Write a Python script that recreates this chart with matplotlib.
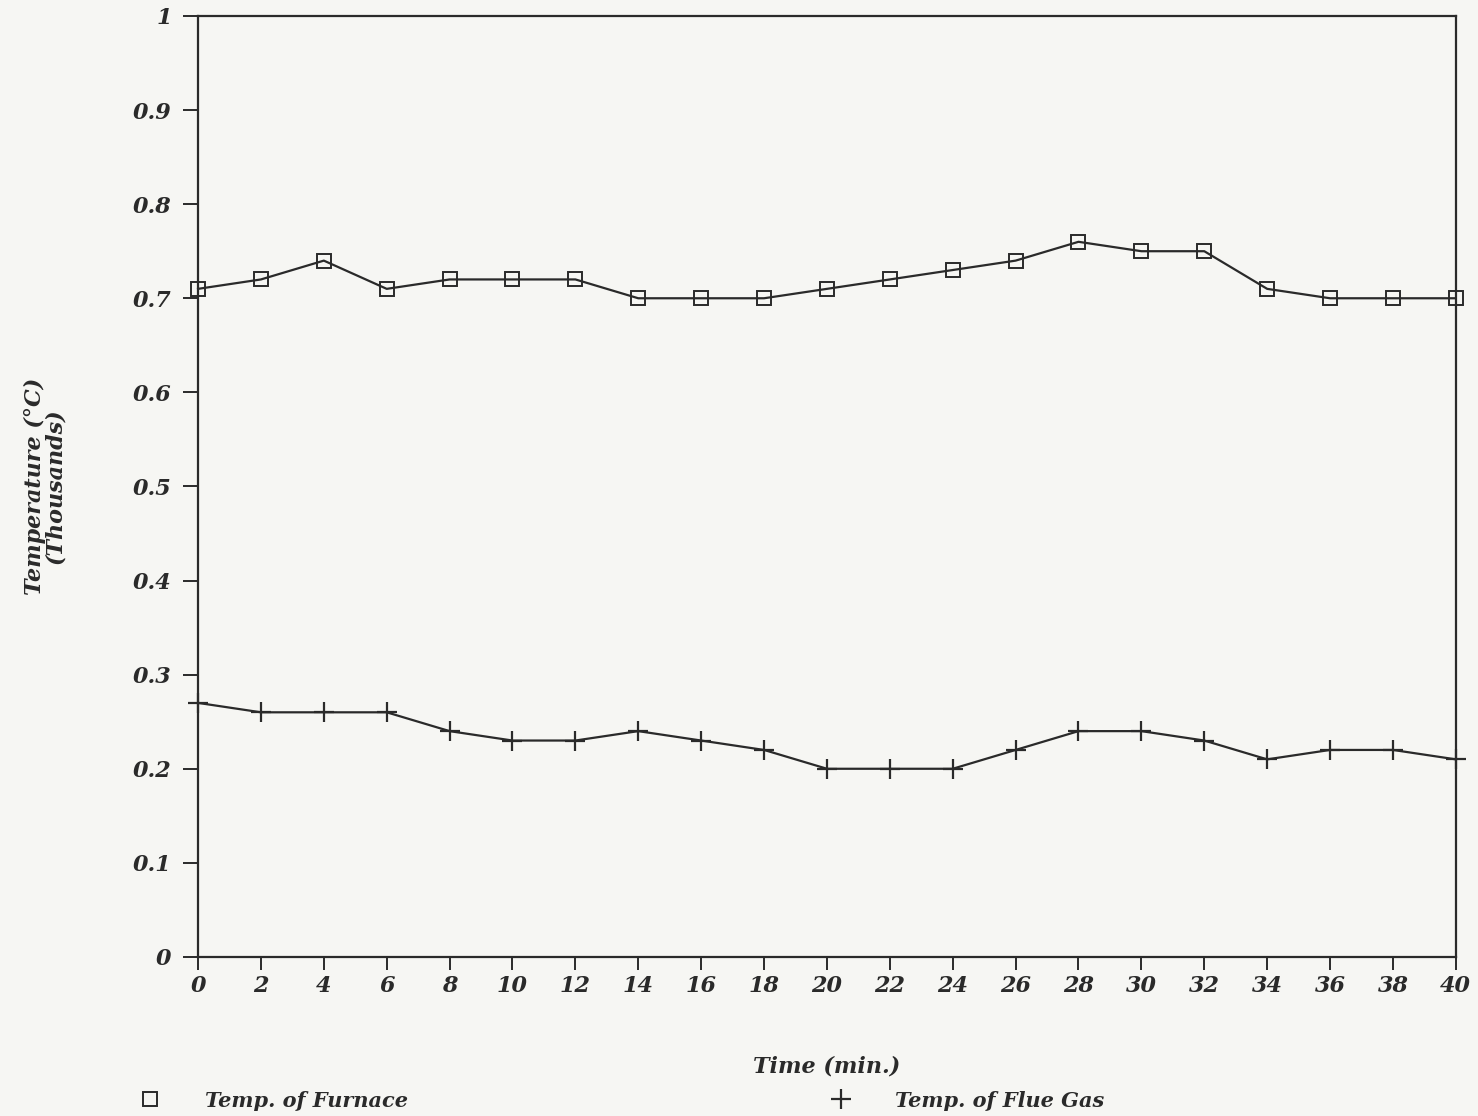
import numpy as np
import matplotlib.pyplot as plt
from matplotlib.lines import Line2D

# Sampling times (min.)
time_min = [0, 2, 4, 6, 8, 10, 12, 14, 16, 18, 20, 22, 24, 26, 28, 30, 32, 34, 36, 38, 40]

# Temperatures in thousands of degC
furnace = [0.71, 0.72, 0.74, 0.71, 0.72, 0.72, 0.72, 0.70, 0.70, 0.70, 0.71,
           0.72, 0.73, 0.74, 0.76, 0.75, 0.75, 0.71, 0.70, 0.70, 0.70]
flue_gas = [0.27, 0.26, 0.26, 0.26, 0.24, 0.23, 0.23, 0.24, 0.23, 0.22, 0.20,
            0.20, 0.20, 0.22, 0.24, 0.24, 0.23, 0.21, 0.22, 0.22, 0.21]

y_ticks = [0, 0.1, 0.2, 0.3, 0.4, 0.5, 0.6, 0.7, 0.8, 0.9, 1]
y_ticklabels = ['0', '0.1', '0.2', '0.3', '0.4', '0.5', '0.6', '0.7', '0.8', '0.9', '1']

font = {'family': 'DejaVu Serif', 'style': 'italic', 'weight': 'bold'}
ink = '#2a2a2a'
paper = '#f6f6f3'

fig = plt.figure(figsize=(14.78, 11.16), dpi=100, facecolor=paper)
ax = fig.add_axes([0.134, 0.1425, 0.851, 0.8432])
ax.set_facecolor(paper)

ax.plot(time_min, furnace, color=ink, lw=1.6, marker='s', ms=10,
        mfc='none', mec=ink, mew=1.4, clip_on=False)
ax.plot(time_min, flue_gas, color=ink, lw=1.6, marker='+', ms=14,
        mec=ink, mew=1.6, clip_on=False)

ax.set_xlim(0, 40)
ax.set_ylim(0, 1)
ax.set_xticks(time_min)
ax.set_xticklabels([str(t) for t in time_min], fontdict=font, fontsize=16, color=ink)
ax.set_yticks(y_ticks)
ax.set_yticklabels(y_ticklabels, fontdict=font, fontsize=16, color=ink)
ax.tick_params(axis='y', direction='out', length=11, width=1.4, color=ink, pad=8)
ax.tick_params(axis='x', direction='out', length=9, width=1.4, color=ink, pad=4)

for side in ['left', 'right', 'top', 'bottom']:
    ax.spines[side].set_color(ink)
    ax.spines[side].set_linewidth(1.6)

ax.set_xlabel('Time (min.)', fontdict=font, fontsize=16, color=ink, labelpad=42)
ax.set_ylabel('Temperature (°C)\n(Thousands)', fontdict=font, fontsize=16,
              color=ink, labelpad=48, linespacing=0.9)

# Legend row under the x-axis label
handles = [
    Line2D([], [], ls='none', marker='s', ms=10, mfc='none', mec=ink, mew=1.4),
    Line2D([], [], ls='none', marker='+', ms=14, mec=ink, mew=1.6),
]
fig.legend(handles, ['Temp. of Furnace', 'Temp. of Flue Gas'],
           loc='lower left', bbox_to_anchor=(0.075, -0.012), ncol=2,
           frameon=False, columnspacing=19.8, handletextpad=1.6,
           prop={'family': 'DejaVu Serif', 'style': 'italic',
                 'weight': 'bold', 'size': 15}, labelcolor=ink)

fig.savefig('out.png', dpi=100, facecolor=paper)
